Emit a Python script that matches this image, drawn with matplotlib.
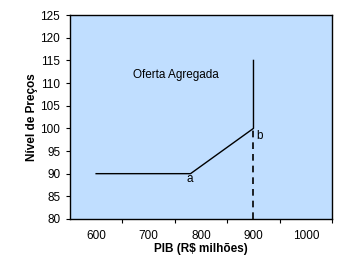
import matplotlib.pyplot as plt

plt.rcParams['font.family'] = ['Liberation Sans', 'DejaVu Sans']

# curva de oferta agregada
pib = [600, 780, 900, 900]
precos = [90, 90, 100, 115]

# linha tracejada em b
pib_b = [900, 900]
precos_b = [80, 100]

fig = plt.figure(figsize=(3.46, 2.80), dpi=100)
ax = fig.add_axes([0.202, 0.218, 0.758, 0.728])
ax.set_facecolor('#C0DEFF')

ax.plot(pib, precos, color='black', lw=1)
ax.plot(pib_b, precos_b, color='black', lw=1.2, ls=(0, (4, 3)))

ax.text(752, 111.8, 'Oferta Agregada', fontsize=8.5, ha='center', va='center')
ax.text(778, 88.8, 'a', fontsize=8.5, ha='center', va='center')
ax.text(912, 98.3, 'b', fontsize=8.5, ha='center', va='center')

ax.set_xlim(550, 1050)
ax.set_ylim(80, 125)
ax.set_yticks(range(80, 126, 5))
# marcas entre os rótulos, como no Excel
ax.set_xticks([650, 750, 850, 950, 1050])
ax.set_xticklabels([])
ax.set_xticks([600, 700, 800, 900, 1000], minor=True)
ax.set_xticklabels(['600', '700', '800', '900', '1000'], minor=True)
ax.tick_params(axis='x', which='minor', length=0, pad=8, labelsize=8.5)
ax.tick_params(axis='x', which='major', direction='out', length=3)
ax.tick_params(axis='y', length=3, labelsize=8.5, pad=4)

for s in ax.spines.values():
    s.set_linewidth(1)

ax.set_xlabel('PIB (R$ milhões)', fontsize=8.5, fontweight='bold', labelpad=1)
ax.set_ylabel('Nível de Preços', fontsize=8.5, fontweight='bold', labelpad=2)

fig.savefig('out.png', dpi=100)
